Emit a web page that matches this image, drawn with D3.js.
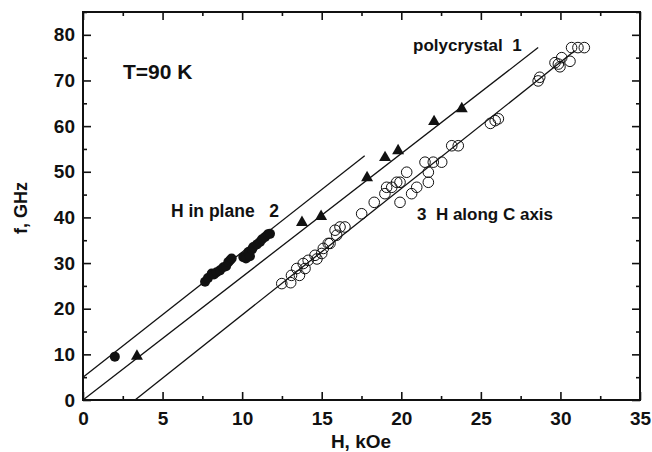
<!DOCTYPE html>
<html>
<head>
<meta charset="utf-8">
<script src="https://cdn.jsdelivr.net/npm/d3@7"></script>
<style>
  body { margin: 0; background: #fff; }
  svg text { font-family: "Liberation Sans", Arial, sans-serif; font-weight: bold; fill: #111; white-space: pre; }
</style>
</head>
<body>
<svg id="chart" width="652" height="452"></svg>
<script>
// field H (kOe) and frequency f (GHz)
var planeH = [2.0, 7.67, 7.85, 8.09, 8.23, 8.4, 8.61, 8.82, 8.99, 9.13, 9.24, 9.34,
  10.07, 10.24, 10.39, 10.49, 10.62, 10.7, 10.93, 11.12, 11.25, 11.44, 11.62, 11.75];
var planeF = [9.5, 25.9, 26.7, 27.7, 27.5, 28.0, 28.4, 29.1, 29.3, 30.2, 30.6, 31.0,
  31.3, 31.0, 32.4, 31.5, 33.0, 33.5, 34.1, 34.6, 35.2, 35.7, 36.3, 36.4];

var polyH = [3.39, 13.76, 14.96, 17.85, 18.98, 19.8, 22.06, 23.8];
var polyF = [9.6, 38.9, 40.2, 48.7, 53.1, 54.6, 61.0, 63.8];

var axisH = [12.49, 13.05, 13.1, 13.6, 13.43, 13.84, 13.95, 14.15, 14.58, 14.7, 15.0, 15.1, 15.41,
  15.52, 15.84, 15.94, 16.15, 16.46, 17.51, 18.3, 18.97, 19.08, 19.4, 19.71, 19.92, 19.92,
  20.34, 20.65, 20.97, 21.49, 21.7, 21.7, 22.01, 22.54, 23.17, 23.58,
  25.6, 25.9, 26.1, 28.6, 28.7, 29.66, 29.87, 29.97, 30.08, 30.6, 30.7, 31.1, 31.5];
var axisF = [25.5, 25.7, 27.3, 27.3, 28.8, 29.9, 28.8, 30.6, 31.7, 30.9, 32.1, 33.2, 34.3,
  34.3, 37.2, 36.1, 37.9, 37.9, 40.8, 43.3, 45.2, 46.6, 46.6, 47.7, 47.7, 43.3,
  49.9, 45.2, 46.6, 52.1, 49.9, 47.7, 52.1, 52.1, 55.7, 55.7,
  60.6, 61.2, 61.6, 69.9, 70.7, 73.9, 73.6, 73.0, 75.0, 74.2, 77.2, 77.2, 77.2];

// fitted lines, [H, f] end points
var line1 = [[0, 0], [28.6, 77.2]];
var line2 = [[0, 5.0], [17.7, 53.5]];
var line3 = [[3.27, 0], [30.9, 76.5]];

var xTicks = [0, 5, 10, 15, 20, 25, 30, 35];
var yTicks = [0, 10, 20, 30, 40, 50, 60, 70, 80];

var svg = d3.select("#chart");
var mLeft = 83, mRight = 640, mTop = 12, mBottom = 400;

var x = d3.scaleLinear().domain([0, 35]).range([mLeft, mRight]);
var y = d3.scaleLinear().domain([0, 85]).range([mBottom, mTop]);

var minorX = d3.range(0, 35.1, 2.5).filter(function(d){ return d % 5 !== 0; });
var minorY = d3.range(0, 85.1, 5).filter(function(d){ return d % 10 !== 0; });

function drawAxis(gen, tr, major, minor, pad) {
  var g = svg.append("g").attr("transform", tr);
  g.call(gen.tickValues(major).tickSize(-8).tickSizeOuter(0).tickPadding(pad || 0)
    .tickFormat(pad ? d3.format("d") : ""));
  g.select(".domain").remove();
  g.selectAll(".tick line").attr("stroke", "#111").attr("stroke-width", 1.6);
  g.selectAll("text").style("font-size", "19px").attr("fill", "#111");
  var g2 = svg.append("g").attr("transform", tr);
  g2.call(gen.tickValues(minor).tickSize(-4).tickFormat(""));
  g2.select(".domain").remove();
  g2.selectAll(".tick line").attr("stroke", "#111").attr("stroke-width", 1.6);
  return g;
}

drawAxis(d3.axisBottom(x), "translate(0," + mBottom + ")", xTicks, minorX, 12);
drawAxis(d3.axisTop(x), "translate(0," + mTop + ")", xTicks, minorX, 0);
drawAxis(d3.axisLeft(y), "translate(" + mLeft + ",0)", yTicks, minorY, 8);
drawAxis(d3.axisRight(y), "translate(" + mRight + ",0)", yTicks, minorY, 0);

svg.append("rect")
  .attr("x", mLeft).attr("y", mTop)
  .attr("width", mRight - mLeft).attr("height", mBottom - mTop)
  .attr("fill", "none").attr("stroke", "#111").attr("stroke-width", 2);

var lineGen = d3.line().x(function(d){ return x(d[0]); }).y(function(d){ return y(d[1]); });
[line1, line2, line3].forEach(function(l) {
  svg.append("path").attr("d", lineGen(l))
    .attr("fill", "none").attr("stroke", "#111").attr("stroke-width", 1.3);
});

// open circles: H along C axis
svg.append("g").selectAll("circle")
  .data(axisH.map(function(h, i){ return [h, axisF[i]]; }))
  .enter().append("circle")
  .attr("cx", function(d){ return x(d[0]); })
  .attr("cy", function(d){ return y(d[1]); })
  .attr("r", 5.3)
  .attr("fill", "none").attr("stroke", "#111").attr("stroke-width", 1);

// filled circles: H in plane
svg.append("g").selectAll("circle")
  .data(planeH.map(function(h, i){ return [h, planeF[i]]; }))
  .enter().append("circle")
  .attr("cx", function(d){ return x(d[0]); })
  .attr("cy", function(d){ return y(d[1]); })
  .attr("r", 5)
  .attr("fill", "#111");

// triangles: polycrystal
var tri = d3.symbol().type(d3.symbolTriangle).size(62);
svg.append("g").selectAll("path")
  .data(polyH.map(function(h, i){ return [h, polyF[i]]; }))
  .enter().append("path")
  .attr("d", tri)
  .attr("transform", function(d){ return "translate(" + x(d[0]) + "," + y(d[1]) + ")"; })
  .attr("fill", "#111");

svg.append("text").attr("x", 123).attr("y", 79).style("font-size", "21px").text("T=90 K");
svg.append("text").attr("x", 413).attr("y", 51).style("font-size", "17px").text("polycrystal  1");
svg.append("text").attr("x", 171).attr("y", 217).style("font-size", "17.5px").text("H in plane   2");
svg.append("text").attr("x", 417).attr("y", 220).style("font-size", "17px").text("3  H along C axis");

svg.append("text").attr("x", 361).attr("y", 448)
  .attr("text-anchor", "middle").style("font-size", "19px").text("H, kOe");
svg.append("text")
  .attr("transform", "translate(27,208) rotate(-90)")
  .attr("text-anchor", "middle").style("font-size", "18px").text("f, GHz");
</script>
</body>
</html>
